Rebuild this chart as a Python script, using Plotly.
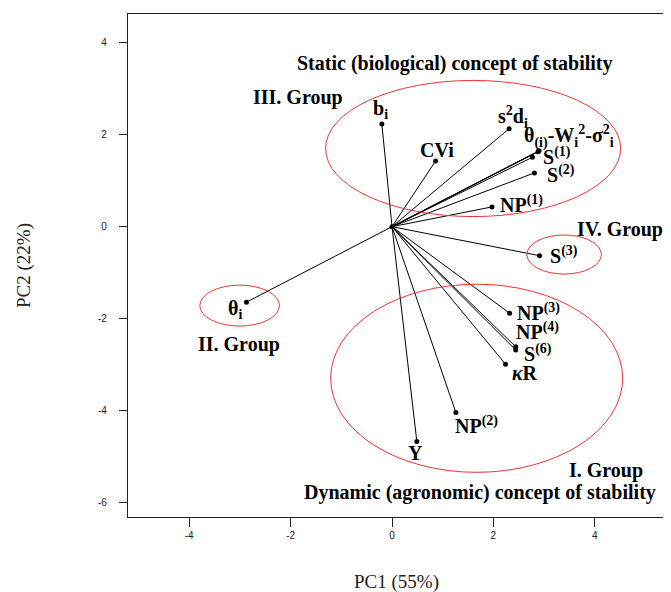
import plotly.graph_objects as go

# ---- data ----
variables = ["b<sub>i</sub>", "CVi", "s<sup>2</sup>d<sub>i</sub>", "θ<sub>(i)</sub>", "W<sub>i</sub><sup>2</sup>",
             "σ<sup>2</sup><sub>i</sub>", "S<sup>(1)</sup>", "S<sup>(2)</sup>", "NP<sup>(1)</sup>",
             "S<sup>(3)</sup>", "NP<sup>(3)</sup>", "NP<sup>(4)</sup>", "S<sup>(6)</sup>",
             "<i>κ</i>R", "NP<sup>(2)</sup>", "Y", "θ<sub>i</sub>"]
pc1 = [-0.20, 0.86, 2.31, 2.90, 2.89, 2.88, 2.77, 2.81, 1.97, 2.91, 2.32, 2.44, 2.44, 2.24, 1.26, 0.49, -2.87]
pc2 = [2.23, 1.43, 2.13, 1.65, 1.64, 1.63, 1.51, 1.17, 0.43, -0.63, -1.88, -2.61, -2.68, -2.99, -4.04, -4.67, -1.64]

x_ticks = [-4, -2, 0, 2, 4]
y_ticks = [4, 2, 0, -2, -4, -6]

# group ellipses: (x0, x1, y0, y1)
groups = {
    "III": (-1.31, 4.51, 0.22, 3.18),
    "IV": (2.66, 4.13, -1.03, -0.18),
    "II": (-3.79, -2.22, -2.16, -1.27),
    "I": (-1.21, 4.55, -5.34, -1.25),
}

# ---- label placement (pixel offsets from point) ----
label_text = {
    0: ("b<sub>i</sub>", "center", -1, 15),
    1: ("CVi", "center", 1, 11),
    2: ("s<sup>2</sup>d<sub>i</sub>", "center", 4, 12),
    3: ("θ<sub>(i)</sub>-W<sub>i</sub><sup>2</sup>-σ<sup>2</sup><sub>i</sub>", "left", -17, 14),
    6: ("S<sup>(1)</sup>", "left", 9, 1),
    7: ("S<sup>(2)</sup>", "left", 11, -1),
    8: ("NP<sup>(1)</sup>", "left", 6, 3),
    9: ("S<sup>(3)</sup>", "left", 8, 1),
    10: ("NP<sup>(3)</sup>", "left", 5, 1),
    11: ("NP<sup>(4)</sup>", "left", -2, 16),
    12: ("S<sup>(6)</sup>", "left", 6, -3),
    13: ("<i>κ</i>R", "left", 4, -9),
    14: ("NP<sup>(2)</sup>", "left", -3, -12),
    15: ("Y", "center", -1, -11),
    16: ("θ<sub>i</sub>", "center", -11, -7),
}

group_text = [
    ("Static (biological) concept of stability", 1.24, 3.54),
    ("III. Group", -1.85, 2.80),
    ("IV. Group", 4.50, -0.07),
    ("II. Group", -3.02, -2.57),
    ("I. Group", 4.22, -5.29),
    ("Dynamic (agronomic) concept of stability", 1.74, -5.77),
]

SERIF = "Liberation Serif, Times New Roman, serif"
FS = 20

fig = go.Figure()

lx, ly = [], []
for a, b in zip(pc1, pc2):
    lx += [0, a, None]
    ly += [0, b, None]
fig.add_trace(go.Scatter(x=lx, y=ly, mode="lines", line=dict(color="black", width=1),
                         hoverinfo="skip", showlegend=False))
fig.add_trace(go.Scatter(x=pc1, y=pc2, mode="markers", marker=dict(color="black", size=5),
                         text=variables, hoverinfo="text", showlegend=False))
fig.add_trace(go.Scatter(x=[0], y=[0], mode="markers", marker=dict(color="black", size=5),
                         hoverinfo="skip", showlegend=False))

for k, (x0, x1, y0, y1) in groups.items():
    fig.add_shape(type="circle", xref="x", yref="y", x0=x0, x1=x1, y0=y0, y1=y1,
                  line=dict(color="#ee3333", width=1))

for i, (txt, anc, dx, dy) in label_text.items():
    fig.add_annotation(x=pc1[i], y=pc2[i], text="<b>" + txt + "</b>", showarrow=False,
                       xanchor=anc, yanchor="middle", xshift=dx, yshift=dy,
                       font=dict(family=SERIF, size=FS, color="black"))

for txt, x, y in group_text:
    fig.add_annotation(x=x, y=y, text="<b>" + txt + "</b>", showarrow=False,
                       xanchor="center", yanchor="middle",
                       font=dict(family=SERIF, size=FS, color="black"))

# axis titles
fig.add_annotation(xref="paper", yref="paper", x=0.495, y=-0.129, text="PC1 (55%)", showarrow=False,
                   xanchor="center", yanchor="middle", font=dict(family=SERIF, size=19, color="#222"))
fig.add_annotation(xref="paper", yref="paper", x=-0.1915, y=0.499, text="PC2 (22%)", showarrow=False,
                   textangle=-90, xanchor="center", yanchor="middle",
                   font=dict(family=SERIF, size=19, color="#222"))

# page body has an 8px margin, so the figure is 8px smaller and offset
fig.update_layout(
    width=663, height=584,
    margin=dict(l=120, r=0, t=6, b=75),
    paper_bgcolor="white", plot_bgcolor="white",
    showlegend=False,
    xaxis=dict(range=[-5.207, 5.503], tickvals=x_ticks, ticktext=[str(v) for v in x_ticks],
               automargin=False,
               showgrid=False, zeroline=False, showline=True, mirror=True,
               linecolor="#222", linewidth=1.3, ticks="outside", ticklen=9, tickwidth=1.3,
               tickcolor="#222", tickfont=dict(family="Liberation Sans, Arial", size=10, color="#222")),
    yaxis=dict(range=[-6.311, 4.624], tickvals=y_ticks, ticktext=[str(v) for v in y_ticks],
               automargin=False,
               showgrid=False, zeroline=False, showline=True, mirror=False,
               linecolor="#222", linewidth=1.3, ticks="outside", ticklen=8, tickwidth=1.3,
               tickcolor="#222", tickfont=dict(family="Liberation Sans, Arial", size=10, color="#222"),
               ticklabelstandoff=10),
)

fig.write_html("out.html")
